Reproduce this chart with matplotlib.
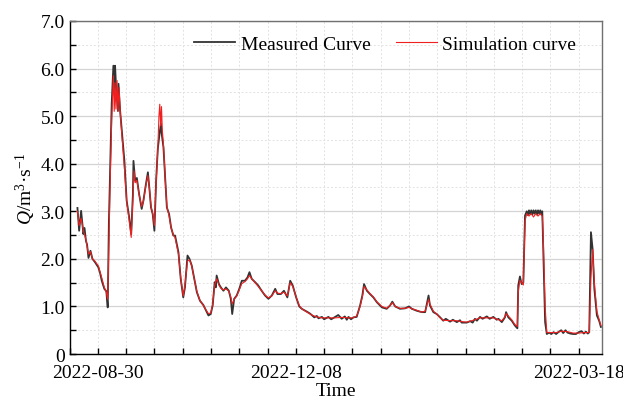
import matplotlib
matplotlib.use('Agg')
import matplotlib.pyplot as plt
from matplotlib.ticker import MultipleLocator, FuncFormatter

plt.rcParams['font.family'] = ['Liberation Serif', 'DejaVu Serif']
plt.rcParams['mathtext.fontset'] = 'custom'
plt.rcParams['mathtext.rm'] = 'Liberation Serif'
plt.rcParams['mathtext.it'] = 'Liberation Serif:italic'

# time axis in days (tick every 10)
t_meas = [-7.2, -6.6, -5.9, -5.1, -4.7, -4.2, -3.8, -3.3, -2.6, -1.9, -1.0, 0.2, 0.8, 1.4, 2.3, 3.0, 3.5,
          3.9, 4.5, 4.9, 5.5, 5.8, 6.1, 6.4, 7.1, 7.3, 7.9, 8.5, 9.4, 10.2, 11.1, 11.8, 12.4, 12.6, 13.2,
          13.8, 14.6, 15.5, 16.1, 17.0, 17.7, 18.2, 18.8, 19.4, 20.0, 20.6, 21.2, 21.8, 22.3, 22.6, 23.2,
          23.8, 24.4, 25.2, 25.9, 26.7, 27.3, 28.5, 29.3, 30.2, 30.8, 31.7, 32.4, 33.2, 34.0, 35.0, 36.1,
          37.3, 38.3, 39.1, 39.9, 40.6, 41.3, 41.7, 42.0, 42.8, 43.5, 44.4, 45.3, 46.3, 47.0, 47.5, 48.2,
          49.1, 50.0, 50.9, 52.0, 52.9, 53.6, 54.4, 55.6, 56.7, 57.9, 59.1, 60.3, 61.5, 62.7, 63.5, 64.7,
          65.8, 67.0, 68.0, 68.9, 70.1, 71.2, 72.1, 73.9, 75.0, 75.6, 76.5, 77.4, 78.0, 79.2, 80.0, 81.5,
          82.5, 83.9, 85.0, 86.2, 87.3, 88.0, 88.6, 89.5, 90.3, 91.5, 92.7, 93.5, 94.1, 95.1, 96.2, 97.4,
          98.6, 100.4, 102.1, 103.3, 104.1, 105.1, 106.8, 108.6, 110.0, 111.0, 112.7, 114.5, 115.7, 116.9,
          117.4, 118.6, 119.8, 121.0, 122.1, 123.0, 124.5, 125.5, 126.9, 128.0, 128.6, 130.4, 131.6, 132.5,
          133.3, 134.0, 135.1, 136.0, 137.5, 138.5, 139.8, 141.0, 141.6, 142.8, 143.9, 144.3,
          145.1, 146.3, 147.4, 148.3, 148.6, 149.2, 149.8, 150.4, 151.0, 151.6, 152.0, 152.4, 152.8,
          153.2, 153.6, 154.0, 154.4, 154.8, 155.2, 155.6, 156.0, 156.4, 156.8, 157.1, 157.5, 158.1,
          158.7, 159.5, 160.3, 161.1, 162.0, 163.0, 163.8, 164.5, 165.3, 166.0, 167.0, 168.0, 169.0,
          170.0, 171.0, 171.8, 172.5, 173.2, 173.7, 174.3, 174.9, 175.5, 176.4, 177.2, 177.8]
q_meas = [3.07, 2.59, 3.01, 2.52, 2.65, 2.38, 2.30, 2.02, 2.17, 2.00, 1.93, 1.82, 1.70, 1.54, 1.37, 1.32, 0.98,
          2.73, 4.20, 5.26, 6.06, 5.50, 6.06, 5.68, 5.11, 5.68, 5.10, 4.69, 4.06, 3.22, 2.87, 2.52, 3.36, 4.06, 3.64,
          3.70, 3.36, 3.05, 3.22, 3.57, 3.82, 3.50, 3.08, 2.94, 2.59, 3.64, 4.31, 4.62, 4.85, 4.62, 4.34,
          3.71, 3.08, 2.94, 2.66, 2.49, 2.49, 2.14, 1.58, 1.19, 1.40, 2.07, 2.00, 1.86, 1.61, 1.30, 1.12,
          1.03, 0.91, 0.81, 0.84, 1.02, 1.51, 1.40, 1.65, 1.47, 1.40, 1.33, 1.40, 1.33, 1.16, 0.84, 1.16,
          1.23, 1.37, 1.54, 1.54, 1.61, 1.72, 1.58, 1.51, 1.44, 1.33, 1.23, 1.16, 1.23, 1.37, 1.26, 1.26,
          1.33, 1.19, 1.54, 1.44, 1.19, 1.00, 0.95, 0.89, 0.85, 0.82, 0.77, 0.80, 0.75, 0.78, 0.73, 0.78,
          0.73, 0.78, 0.82, 0.74, 0.79, 0.72, 0.78, 0.73, 0.77, 0.78, 1.02, 1.23, 1.47, 1.33, 1.26, 1.19,
          1.09, 0.98, 0.95, 1.02, 1.10, 1.00, 0.95, 0.96, 1.00, 0.95, 0.91, 0.88, 0.88, 1.23,
          1.02, 0.88, 0.84, 0.77, 0.70, 0.74, 0.68, 0.72, 0.67, 0.71, 0.66, 0.66, 0.69, 0.66,
          0.74, 0.70, 0.78, 0.74, 0.79, 0.74, 0.78, 0.72, 0.74, 0.67, 0.77, 0.88,
          0.77, 0.70, 0.60, 0.54, 1.44, 1.63, 1.47, 1.50, 2.91, 3.00, 2.92, 3.02, 2.94,
          3.02, 2.93, 3.02, 2.95, 3.02, 2.93, 3.02, 2.95, 3.02, 2.93, 3.00, 2.07, 0.67,
          0.42, 0.45, 0.42, 0.46, 0.42, 0.47, 0.50, 0.44, 0.50, 0.45, 0.43, 0.42, 0.42,
          0.46, 0.48, 0.43, 0.47, 0.43, 0.46, 2.56, 2.20, 1.37, 0.81, 0.70, 0.57]

t_sim = [-7.2, -6.6, -5.9, -5.1, -4.2, -3.3, -2.6, -1.9, -1.0, 0.2, 1.4, 2.3, 3.0, 3.5, 3.9, 4.5, 4.9, 5.5,
         5.8, 6.1, 6.4, 6.8, 7.1, 7.5, 7.9, 8.5, 9.4, 10.2, 11.1, 11.8, 12.4, 12.8, 13.2, 13.8, 14.6, 15.5,
         16.1, 17.0, 17.7, 18.2, 18.8, 19.4, 20.0, 20.6, 21.2, 21.6, 21.9, 22.2, 22.5, 22.8, 23.2, 23.8,
         24.4, 25.2, 25.9, 26.7, 27.3, 28.5, 29.3, 30.2, 30.8, 31.7, 32.4, 33.2, 34.0, 35.0, 36.1, 37.3,
         38.3, 39.1, 39.9, 40.6, 41.3, 42.0, 42.8, 43.5, 44.4, 45.3, 46.3, 47.0, 47.5, 48.2, 49.1, 50.0,
         50.9, 52.0, 52.9, 53.6, 54.4, 55.6, 56.7, 57.9, 59.1, 60.3, 61.5, 62.7, 63.5, 64.7, 65.8, 67.0,
         68.0, 68.9, 70.1, 71.2, 72.1, 73.9, 75.6, 77.4, 79.2, 81.5, 83.9, 86.2, 88.6, 90.3, 91.5, 92.7,
         93.5, 94.1, 95.1, 96.2, 97.4, 98.6, 100.4, 102.1, 103.3, 104.1, 105.1, 106.8, 108.6, 110.0, 111.0,
         112.7, 114.5, 115.7, 116.9, 117.4, 118.6, 119.8, 121.0, 122.1, 124.5, 126.9, 128.6, 130.4, 131.6,
         133.3, 135.1, 137.5, 139.8, 141.6, 142.8, 143.9, 144.3, 145.1, 146.3, 147.4, 148.3, 148.6, 149.2,
         149.8, 150.4, 151.0, 151.6, 152.4, 153.2, 154.0, 154.8, 155.6, 156.4, 157.1, 157.5, 158.1, 158.7,
         160.0, 162.0, 164.0, 166.0, 168.0, 170.0, 172.0, 173.7, 174.3, 174.9, 175.5, 176.4, 177.2, 177.8]
q_sim = [3.00, 2.70, 2.85, 2.60, 2.40, 2.10, 2.15, 2.00, 1.95, 1.85, 1.60, 1.40, 1.30, 1.15, 2.30, 4.00, 4.90, 5.85,
         5.10, 5.70, 5.15, 5.75, 5.10, 5.60, 5.10, 4.60, 3.90, 3.20, 2.80, 2.45, 3.30, 3.85, 3.60, 3.65, 3.35, 3.10,
         3.20, 3.55, 3.75, 3.50, 3.10, 2.95, 2.70, 3.60, 4.30, 5.00, 5.25, 4.80, 5.20, 4.70, 4.40, 3.70,
         3.10, 2.90, 2.65, 2.50, 2.45, 2.10, 1.60, 1.22, 1.45, 1.95, 1.98, 1.85, 1.60, 1.32, 1.12, 1.02,
         0.92, 0.85, 0.86, 1.05, 1.45, 1.58, 1.45, 1.38, 1.35, 1.37, 1.32, 1.20, 1.05, 1.15, 1.22, 1.35,
         1.48, 1.52, 1.58, 1.65, 1.58, 1.50, 1.42, 1.33, 1.24, 1.18, 1.22, 1.33, 1.28, 1.27, 1.30, 1.22,
         1.50, 1.42, 1.20, 1.02, 0.95, 0.88, 0.82, 0.78, 0.76, 0.76, 0.76, 0.77, 0.76, 0.76, 0.80, 1.00,
         1.20, 1.42, 1.35, 1.27, 1.20, 1.10, 1.00, 0.96, 1.02, 1.08, 1.00, 0.96, 0.96, 0.98, 0.95,
         0.92, 0.88, 0.90, 1.15, 1.05, 0.90, 0.84, 0.76, 0.71, 0.70, 0.70, 0.68, 0.67, 0.69,
         0.72, 0.76, 0.76, 0.76, 0.72, 0.70, 0.78, 0.85, 0.80, 0.72, 0.62, 0.58, 1.30, 1.55,
         1.50, 1.45, 2.80, 2.95, 2.90, 2.95, 2.88, 2.95, 2.90, 2.95, 2.90, 2.30, 1.00, 0.45,
         0.45, 0.45, 0.48, 0.47, 0.44, 0.44, 0.45, 0.45, 1.60, 2.20, 1.50, 0.90, 0.72, 0.60]

tick_pos = [0, 70, 170]
tick_labels = ['2022-08-30', '2022-12-08', '2022-03-18']

fig = plt.figure(figsize=(6.23, 4.02), dpi=100)
ax = fig.add_axes([0.1116, 0.1169, 0.8542, 0.8284])

ax.plot(t_meas, q_meas, color='#333333', lw=1.3, label='Measured Curve', zorder=3)
ax.plot(t_sim, q_sim, color='#f02020', lw=0.8, label='Simulation curve', zorder=4)

ax.set_xlim(-10, 178.1)
ax.set_ylim(0, 7)
ax.xaxis.set_major_locator(MultipleLocator(10))
ax.xaxis.set_major_formatter(FuncFormatter(
    lambda v, p: tick_labels[tick_pos.index(int(round(v)))] if int(round(v)) in tick_pos else ''))
ax.yaxis.set_major_locator(MultipleLocator(1))
ax.yaxis.set_minor_locator(MultipleLocator(0.5))
ax.yaxis.set_major_formatter(FuncFormatter(lambda v, p: '0' if v == 0 else f'{v:.1f}'))
ax.tick_params(which='both', direction='in', length=4, width=1, labelsize=14, top=False, right=False)
ax.tick_params(axis='x', pad=7)

ax.grid(axis='y', which='major', color='#d4d4d4', lw=0.9, ls='-', zorder=0)
ax.grid(axis='y', which='minor', color='#e2e2e2', lw=0.7, ls=(0, (2, 2)), zorder=0)
ax.grid(axis='x', which='major', color='#e2e2e2', lw=0.7, ls=(0, (2, 2)), zorder=0)

for s in ['left', 'bottom']:
    ax.spines[s].set_color('black')
    ax.spines[s].set_linewidth(1.0)
for s in ['top', 'right']:
    ax.spines[s].set_color('#707070')
    ax.spines[s].set_linewidth(1.0)

ax.set_xlabel('Time', fontsize=14, labelpad=1)
ax.set_ylabel('$Q$/m$^3$·s$^{-1}$', fontsize=14, labelpad=2)

ax.legend(ncol=2, frameon=False, fontsize=14, loc='center right', bbox_to_anchor=(0.985, 0.93),
          handlelength=2.1, handletextpad=0.3, columnspacing=1.3)

fig.savefig('out.png', dpi=100)
